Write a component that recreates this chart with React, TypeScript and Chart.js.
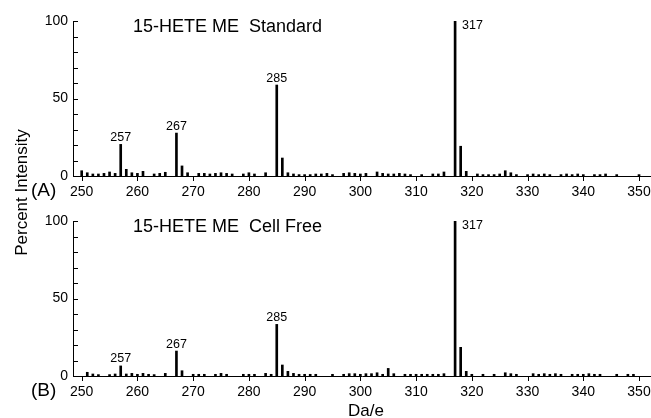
import React, { useEffect, useRef } from "react";
import { Chart, registerables } from "chart.js";

Chart.register(...registerables);

const FONT = "'Liberation Sans', Arial, Helvetica, sans-serif";

// ---- data ----
const xTickValues = [250, 260, 270, 280, 290, 300, 310, 320, 330, 340, 350];
const yTickValues = [0, 10, 20, 30, 40, 50, 60, 70, 80, 90, 100];
const yLabelValues = [0, 50, 100];

const massesA = [
  250, 251, 252, 253, 254, 255, 256, 257, 258, 259, 260, 261, 263, 264, 265, 267, 268, 269,
  271, 272, 273, 274, 275, 276, 277, 279, 280, 281, 283, 285, 286, 287, 288, 289, 290, 291,
  292, 293, 294, 295, 297, 298, 299, 300, 301, 303, 304, 305, 306, 307, 308, 309, 311, 313,
  314, 315, 317, 318, 319, 321, 322, 323, 324, 325, 326, 327, 328, 330, 331, 332, 333, 334,
  336, 337, 338, 339, 340, 342, 343, 344, 346, 350,
];
const intensA = [
  3.4, 2.1, 1.3, 1.3, 1.7, 2.6, 1.7, 20.4, 4.3, 2.1, 1.7, 3.0, 1.3, 1.7, 2.4, 27.7, 6.5, 2.1,
  1.7, 1.7, 1.3, 1.7, 2.1, 1.7, 1.3, 1.3, 2.1, 1.3, 2.1, 58.7, 11.6, 2.1, 1.3, 0.9, 0.9, 0.9,
  1.3, 1.3, 1.7, 0.9, 1.7, 2.1, 1.7, 1.3, 1.7, 2.6, 1.7, 1.3, 1.3, 1.7, 1.3, 0.9, 0.9, 1.3,
  1.3, 2.6, 100, 19.2, 3.0, 1.3, 0.9, 0.9, 0.9, 1.3, 3.4, 2.1, 0.9, 0.9, 1.3, 0.9, 1.3, 0.9,
  0.9, 1.3, 0.9, 1.3, 0.9, 0.9, 0.9, 1.3, 0.9, 0.9,
];

const massesB = [
  251, 252, 253, 255, 256, 257, 258, 259, 260, 261, 262, 263, 265, 267, 268, 270, 271, 272,
  274, 275, 276, 279, 280, 281, 283, 284, 285, 286, 287, 288, 289, 290, 291, 292, 295, 297,
  298, 299, 300, 301, 302, 303, 304, 305, 306, 308, 309, 310, 311, 312, 313, 314, 315, 317,
  318, 319, 320, 322, 324, 326, 327, 328, 331, 332, 333, 334, 335, 336, 338, 339, 340, 341,
  342, 343, 346, 348, 349,
];
const intensB = [
  2.4, 1.3, 0.9, 0.9, 1.3, 6.5, 1.3, 1.7, 1.1, 1.7, 1.1, 0.9, 1.7, 16.1, 3.4, 1.1, 1.1, 1.1,
  1.1, 1.7, 1.1, 1.1, 1.1, 1.1, 1.7, 1.1, 33.3, 7.1, 3.0, 1.7, 1.1, 1.1, 1.1, 1.1, 1.1, 1.1,
  1.5, 1.5, 1.1, 1.5, 1.5, 2.1, 1.1, 4.9, 1.5, 1.1, 1.1, 1.1, 1.1, 1.1, 1.1, 1.1, 1.5, 100,
  18.5, 3.0, 1.1, 1.1, 1.1, 2.1, 1.5, 1.1, 1.5, 1.1, 1.5, 1.1, 1.5, 1.1, 1.1, 1.1, 1.1, 1.5,
  1.1, 1.1, 1.1, 1.1, 1.1,
];

const peakLabels = [257, 267, 285, 317];
const titleA = "15-HETE ME  Standard";
const titleB = "15-HETE ME  Cell Free";
const panelA = "(A)";
const panelB = "(B)";
const xTitle = "Da/e";
const yTitle = "Percent Intensity";

const X_MIN = 248.44;
const X_MAX = 352.15;
const W = 651;
const H = 418;

function makeConfig(
  masses: number[],
  intens: number[],
  title: string,
  panel: string,
  areaTop: number,
  isBottom: boolean
): any {
  const areaH = 155;
  const xH = 24;
  const padBottom = H - areaTop - areaH - xH;

  const textPlugin = {
    id: "texts",
    afterDatasetsDraw(chart: any) {
      const ctx = chart.ctx as CanvasRenderingContext2D;
      const xs = chart.scales.x;
      const ys = chart.scales.y;
      const area = chart.chartArea;
      ctx.save();
      ctx.strokeStyle = "#000";
      ctx.lineWidth = 1;
      ctx.beginPath();
      // inward y ticks
      for (const v of yTickValues) {
        const py = Math.round(ys.getPixelForValue(v)) + 0.5;
        ctx.moveTo(area.left, py);
        ctx.lineTo(area.left + 5, py);
      }
      // outward x ticks
      for (const v of xTickValues) {
        const px = Math.round(xs.getPixelForValue(v)) + 0.5;
        ctx.moveTo(px, area.bottom);
        ctx.lineTo(px, area.bottom + 5);
      }
      ctx.stroke();

      ctx.fillStyle = "#000";
      // peak labels
      ctx.font = `12.5px ${FONT}`;
      for (const m of peakLabels) {
        const idx = masses.indexOf(m);
        if (idx < 0) continue;
        const v = intens[idx];
        const px = xs.getPixelForValue(m);
        const py = ys.getPixelForValue(v);
        ctx.textBaseline = "alphabetic";
        if (v >= 99) {
          ctx.textAlign = "left";
          ctx.fillText(String(m), px + 7, py + 7.5);
        } else {
          ctx.textAlign = "center";
          ctx.fillText(String(m), px, py - 3.5);
        }
      }
      // title
      ctx.font = `18px ${FONT}`;
      ctx.textAlign = "left";
      ctx.textBaseline = "alphabetic";
      ctx.fillText(title, 133, area.top + 11);
      // panel label
      ctx.font = `19px ${FONT}`;
      ctx.fillText(panel, 31, area.bottom + 20);

      if (isBottom) {
        ctx.font = `17px ${FONT}`;
        ctx.textAlign = "center";
        ctx.fillText(xTitle, 366, 416);
        ctx.save();
        ctx.translate(26.5, 192.5);
        ctx.rotate(-Math.PI / 2);
        ctx.textAlign = "center";
        ctx.textBaseline = "alphabetic";
        ctx.fillText(yTitle, 0, 0);
        ctx.restore();
      }
      ctx.restore();
    },
  };

  return {
    type: "bar",
    data: {
      datasets: [
        {
          data: masses.map((m, i) => ({ x: m, y: intens[i] })),
          backgroundColor: "#000",
          borderWidth: 0,
          barThickness: 2,
        },
      ],
    },
    options: {
      responsive: false,
      animation: false,
      devicePixelRatio: 1,
      layout: { padding: { top: areaTop, bottom: padBottom, left: 0, right: 0 } },
      plugins: {
        legend: { display: false },
        tooltip: { enabled: false },
      },
      scales: {
        x: {
          type: "linear",
          min: X_MIN,
          max: X_MAX,
          offset: false,
          afterBuildTicks: (s: any) => {
            s.ticks = xTickValues.map((v) => ({ value: v }));
          },
          afterFit: (s: any) => {
            s.height = xH;
          },
          grid: {
            display: true,
            offset: false,
            drawOnChartArea: false,
            drawTicks: true,
            tickLength: 8,
            color: "rgba(0,0,0,0)",
            lineWidth: 1,
          },
          border: { display: true, color: "#000", width: 1 },
          ticks: {
            color: "#000",
            font: { family: FONT, size: 14 },
            padding: 0,
            maxRotation: 0,
            autoSkip: false,
          },
        },
        y: {
          type: "linear",
          min: 0,
          max: 100,
          afterBuildTicks: (s: any) => {
            s.ticks = yTickValues.map((v) => ({ value: v }));
          },
          afterFit: (s: any) => {
            s.width = 73;
          },
          grid: { display: false, drawTicks: false, tickLength: 0 },
          border: { display: true, color: "#000", width: 1 },
          ticks: {
            color: "#000",
            font: { family: FONT, size: 14 },
            padding: 5,
            autoSkip: false,
            callback: (v: any) => (yLabelValues.includes(Number(v)) ? String(v) : ""),
          },
        },
      },
    },
    plugins: [textPlugin],
  };
}

export default function App() {
  const refA = useRef<HTMLCanvasElement>(null);
  const refB = useRef<HTMLCanvasElement>(null);

  useEffect(() => {
    const a = new Chart(refA.current!, makeConfig(massesA, intensA, titleA, panelA, 21, false));
    const b = new Chart(refB.current!, makeConfig(massesB, intensB, titleB, panelB, 221, true));
    return () => {
      a.destroy();
      b.destroy();
    };
  }, []);

  return (
    <div style={{ position: "fixed", left: 0, top: 0, width: W, height: H, background: "#fff" }}>
      <canvas ref={refA} width={W} height={H} style={{ position: "absolute", left: 0, top: 0 }} />
      <canvas ref={refB} width={W} height={H} style={{ position: "absolute", left: 0, top: 0 }} />
    </div>
  );
}
